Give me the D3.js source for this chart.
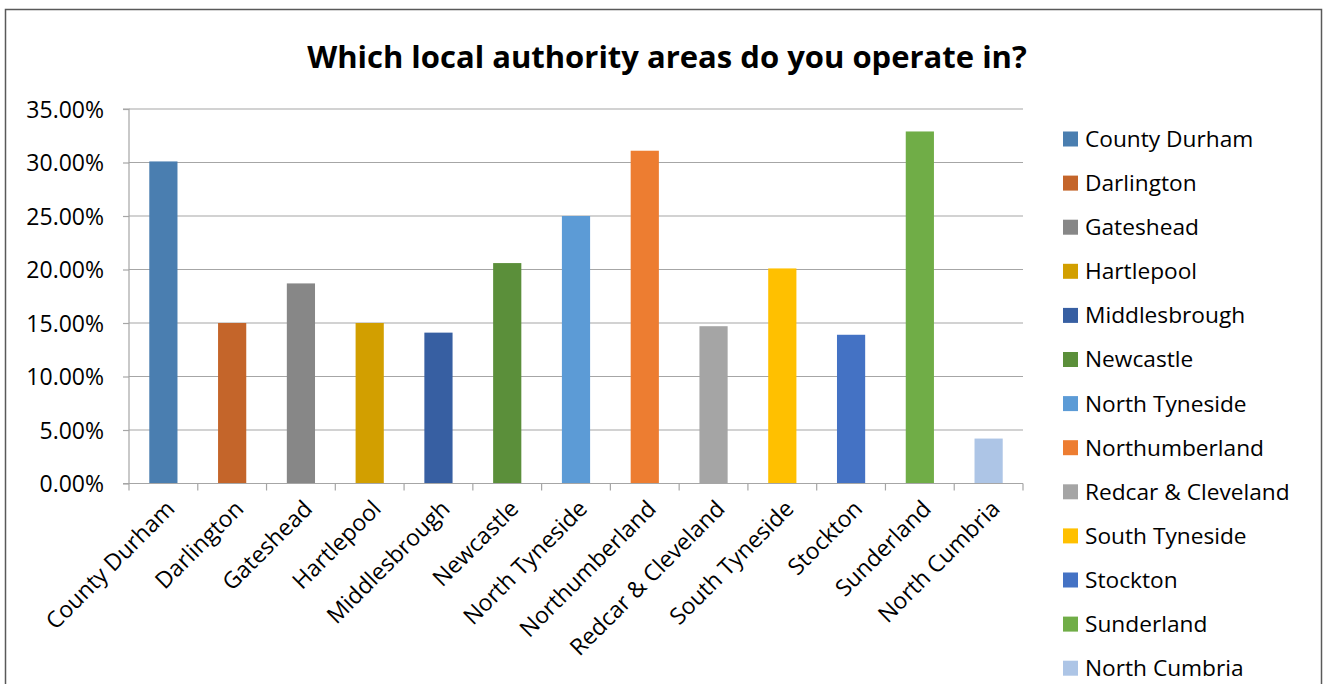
<!DOCTYPE html>
<html>
<head>
<meta charset="utf-8">
<script src="https://cdn.jsdelivr.net/npm/d3@7"></script>
<style>
  html, body { margin: 0; padding: 0; background: #fff; }
  svg text { font-family: "Open Sans", "DejaVu Sans", sans-serif; fill: #000; }
</style>
</head>
<body>
<svg id="chart" width="1325" height="684"></svg>
<script>
// Share of respondents operating in each local authority area
const categories = [
  "County Durham", "Darlington", "Gateshead", "Hartlepool", "Middlesbrough",
  "Newcastle", "North Tyneside", "Northumberland", "Redcar & Cleveland",
  "South Tyneside", "Stockton", "Sunderland", "North Cumbria"
];
const values = [30.1, 15.0, 18.7, 15.0, 14.1, 20.6, 25.0, 31.1, 14.7, 20.1, 13.9, 32.9, 4.2];
const colors = [
  "#4a7eb0", "#c4652a", "#878787", "#d29f00", "#375fa2", "#5b8f3a", "#5c9bd6",
  "#ed7d31", "#a5a5a5", "#ffc000", "#4472c4", "#70ad47", "#adc5e6"
];
const yTicks = [0, 5, 10, 15, 20, 25, 30, 35];
const title = "Which local authority areas do you operate in?";

const svg = d3.select("#chart");

// chart frame
svg.append("rect")
  .attr("x", 5.5).attr("y", 9.5)
  .attr("width", 1316).attr("height", 690)
  .attr("fill", "#fff").attr("stroke", "#595959").attr("stroke-width", 1.5);

const plot = { left: 129, right: 1023, top: 109, bottom: 483.5 };

const x = d3.scaleBand().domain(categories).range([plot.left, plot.right]).paddingInner(0.59).paddingOuter(0.295);
const xb = d3.scaleBand().domain(categories).range([plot.left, plot.right]);
const y = d3.scaleLinear().domain([0, 35]).range([plot.bottom, plot.top]);

// horizontal gridlines
svg.append("g")
  .selectAll("line")
  .data(yTicks.filter(d => d > 0))
  .join("line")
  .attr("x1", plot.left).attr("x2", plot.right)
  .attr("y1", d => y(d)).attr("y2", d => y(d))
  .attr("stroke", "#a6a6a6").attr("stroke-width", 1.2);

// y axis
const yAxis = d3.axisLeft(y).tickValues(yTicks).tickSize(6).tickFormat(d => d.toFixed(2) + "%");
const gy = svg.append("g").attr("transform", `translate(${plot.left},0)`).call(yAxis);
gy.select(".domain").attr("stroke", "#a6a6a6").attr("stroke-width", 1.2).attr("d", `M-6,${plot.top}H0V${plot.bottom}H-6`);
gy.selectAll(".tick line").attr("stroke", "#a6a6a6").attr("stroke-width", 1.2);
gy.selectAll(".tick text").attr("font-size", 23).attr("x", -25).attr("dy", "0.35em")
  .style("font-family", '"Open Sans", sans-serif').attr("fill", "#000");

// bars
svg.append("g")
  .selectAll("rect")
  .data(categories.map((c, i) => ({ c, v: values[i], col: colors[i] })))
  .join("rect")
  .attr("x", d => x(d.c))
  .attr("y", d => y(d.v))
  .attr("width", x.bandwidth())
  .attr("height", d => y(0) - y(d.v))
  .attr("fill", d => d.col);

// x axis with ticks at category boundaries
const gx = svg.append("g");
gx.append("line")
  .attr("x1", plot.left).attr("x2", plot.right)
  .attr("y1", plot.bottom).attr("y2", plot.bottom)
  .attr("stroke", "#a6a6a6").attr("stroke-width", 1.2);
const boundaries = categories.map(c => xb(c)).concat([plot.right]);
gx.selectAll("line.tk")
  .data(boundaries)
  .join("line").attr("class", "tk")
  .attr("x1", d => d).attr("x2", d => d)
  .attr("y1", plot.bottom).attr("y2", plot.bottom + 7)
  .attr("stroke", "#a6a6a6").attr("stroke-width", 1.2);

gx.selectAll("text")
  .data(categories)
  .join("text")
  .attr("transform", d => `translate(${x(d) + x.bandwidth() / 2 + 7},${plot.bottom + 21}) rotate(-45)`)
  .attr("text-anchor", "end")
  .attr("dy", "0.35em")
  .attr("font-size", 23)
  .text(d => d);

// title
svg.append("text")
  .attr("x", 667).attr("y", 68)
  .attr("text-anchor", "middle")
  .attr("font-size", 31)
  .attr("font-weight", "bold")
  .text(title);

// legend
const legend = svg.append("g").attr("transform", "translate(1063,139)");
const items = legend.selectAll("g")
  .data(categories.map((c, i) => ({ c, col: colors[i] })))
  .join("g")
  .attr("transform", (d, i) => `translate(0,${i * 44.1})`);
items.append("rect")
  .attr("x", 0).attr("y", -7.5)
  .attr("width", 15).attr("height", 15)
  .attr("fill", d => d.col);
items.append("text")
  .attr("x", 22).attr("dy", "0.35em")
  .attr("font-size", 22.7)
  .text(d => d.c);
</script>
</body>
</html>
